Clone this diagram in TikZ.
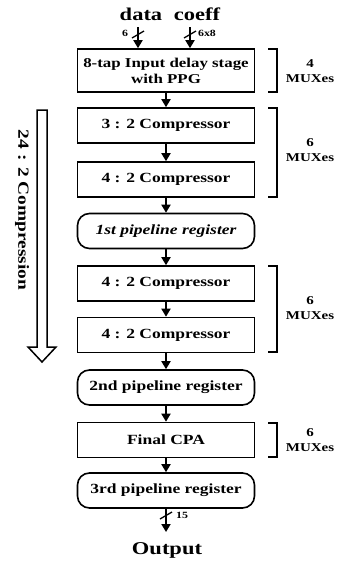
\documentclass[tikz,border=0pt]{standalone}
\usepackage{fontspec}
\setmainfont{Liberation Serif}[FakeStretch=1.25]
\usetikzlibrary{arrows.meta}
\tikzset{
  blk/.style={draw, line width=1.6pt, minimum width=177pt, minimum height=35pt, inner sep=1pt,
              font=\bfseries\fontsize{14}{16}\selectfont, align=center},
  pipe/.style={blk, rounded corners=12pt},
  arr/.style={line width=1.8pt, -{Triangle[length=8pt,width=9pt]}},
  brk/.style={line width=1.4pt},
  mux/.style={font=\bfseries\fontsize{12}{15}\selectfont, align=center, inner sep=0pt},
  io/.style={font=\bfseries\fontsize{18}{20}\selectfont, inner sep=0pt},
  bus/.style={font=\bfseries\fontsize{9.5}{11}\selectfont, inner sep=0pt},
  slash/.style={line width=1.3pt},
}
\begin{document}
\begin{tikzpicture}[x=1pt,y=-1pt]
\useasboundingbox (0,0) rectangle (342,566);

% main column
\node[blk, minimum height=43pt, font=\bfseries\fontsize{13.5}{16}\selectfont] (b1) at (166,70.5) {8-tap Input delay stage\\with PPG};
\node[blk] (b2) at (166,125.5) {3 : 2\ Compressor};
\node[blk] (b3) at (166,179.5) {4 : 2\ Compressor};
\node[pipe] (p1) at (166,231) {\itshape 1st pipeline register};
\node[blk] (b4) at (166,283.5) {4 : 2\ Compressor};
\node[blk] (b5) at (166,335) {4 : 2\ Compressor};
\node[pipe] (p2) at (166,387.5) {2nd pipeline register};
\node[blk] (b6) at (166,440) {Final CPA};
\node[pipe] (p3) at (166,490.5) {3rd pipeline register};

\draw[arr] (b1) -- (b2);
\draw[arr] (b2) -- (b3);
\draw[arr] (b3) -- (p1);
\draw[arr] (p1) -- (b4);
\draw[arr] (b4) -- (b5);
\draw[arr] (b5) -- (p2);
\draw[arr] (p2) -- (b6);
\draw[arr] (b6) -- (p3);

% inputs
\node[io] (data) at (141,14) {data};
\node[io] (coeff) at (197,14) {coeff};
\coordinate (din) at (138,27);
\coordinate (cin) at (190,27);
\draw[arr] (din) -- (din |- b1.north);
\draw[arr] (cin) -- (cin |- b1.north);
\draw[slash] (132,38) -- (144,31);
\draw[slash] (184,38) -- (196,31);
\node[bus] (n6) at (125,33) {6};
\node[bus] (n68) at (207,33) {6x8};

% output
\node[io] (out) at (167,550) {Output};
\coordinate (oend) at (166,532);
\draw[arr] (p3) -- (oend);
\draw[slash] (160,519) -- (172,512);
\node[bus] (n15) at (182,515) {15};

% brackets
\draw[brk] (268,49) -- (277,49) -- (277,92) -- (268,92);
\draw[brk] (268,108) -- (277,108) -- (277,197) -- (268,197);
\draw[brk] (268,266) -- (277,266) -- (277,352) -- (268,352);
\draw[brk] (268,423) -- (277,423) -- (277,457) -- (268,457);
\node[mux] (m1) at (310,71) {4\\MUXes};
\node[mux] (m2) at (310,150) {6\\MUXes};
\node[mux] (m3) at (310,308) {6\\MUXes};
\node[mux] (m4) at (310,440) {6\\MUXes};

% 24:2 compression arrow
\draw[line width=1.5pt, fill=white] (37,110) -- (47,110) -- (47,347) -- (56,347) -- (42,362) -- (28,347) -- (37,347) -- cycle;
\node[io, rotate=-90, font=\bfseries\fontsize{15.5}{18}\selectfont] (cmp) at (22,210) {24 : 2\ Compression};
\end{tikzpicture}
\end{document}
